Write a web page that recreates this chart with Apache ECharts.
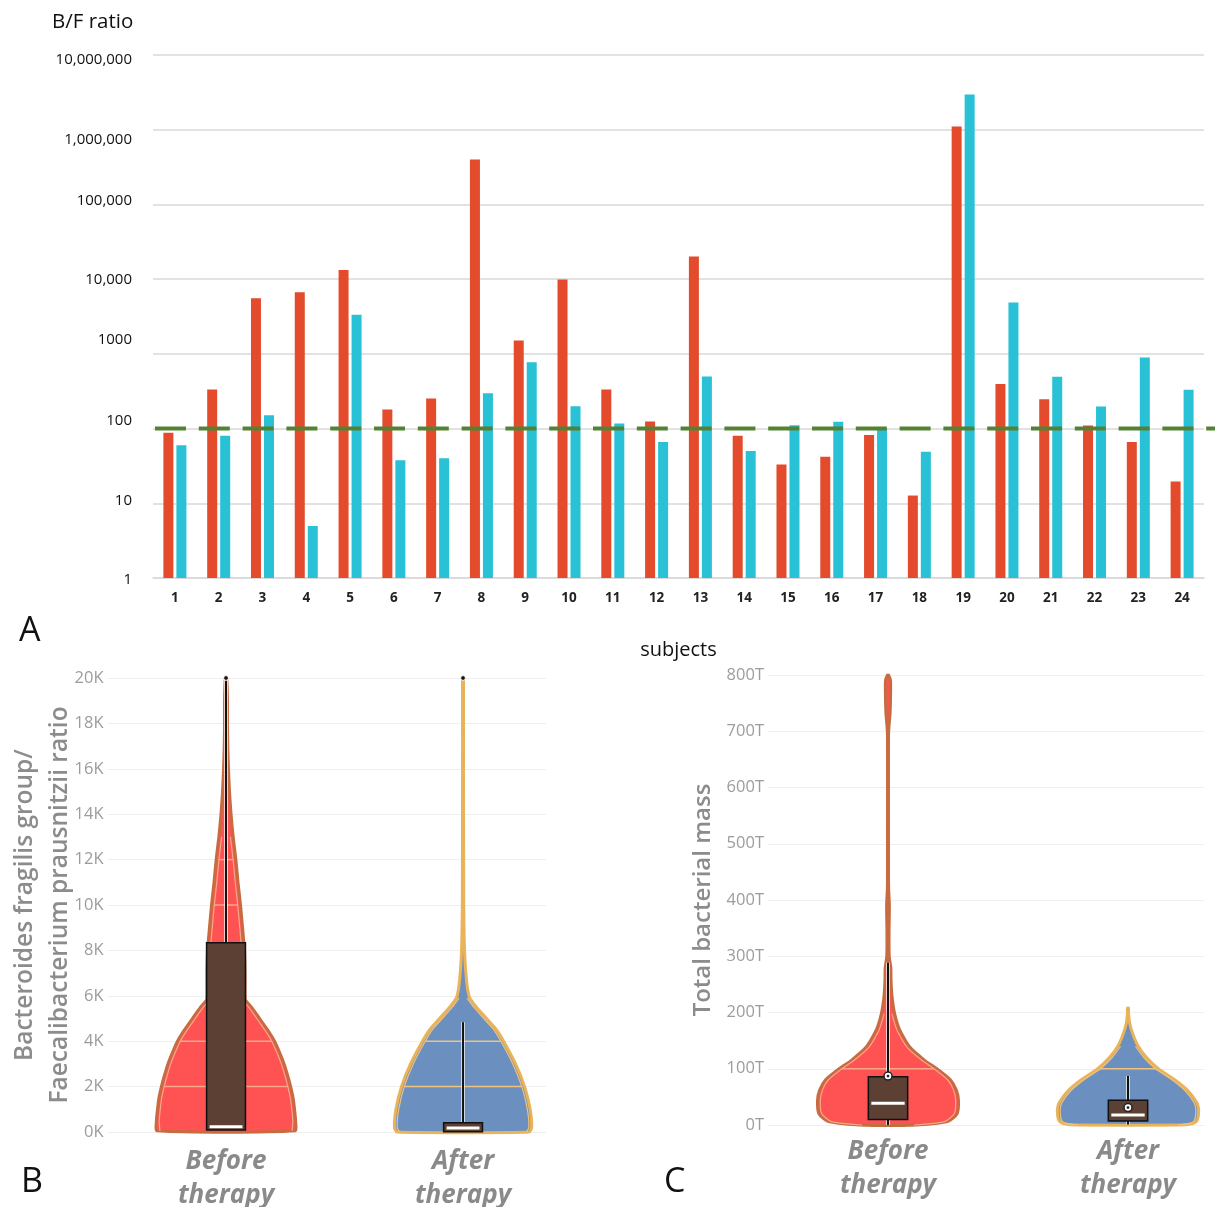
<!DOCTYPE html>
<html><head><meta charset="utf-8">
<script src="https://cdn.jsdelivr.net/npm/echarts@6/dist/echarts.min.js"></script>
<style>html,body{margin:0;padding:0;background:#fff}#c{width:1215px;height:1207px}</style>
</head><body><div id="c"></div>
<script>
// ---------- Panel A data ----------
const subjects = ['1','2','3','4','5','6','7','8','9','10','11','12','13','14','15','16','17','18','19','20','21','22','23','24'];
const ratioBefore = [88,333,5570,6700,13300,180,252,400000,1510,9900,333,124,20100,80,33,42,82,12.7,1100000,395,246,110,66,19.5];
const ratioAfter  = [60,80,151,4.97,3330,37.7,40,297,773,199,117,66,497,50,111,123,101,49,2960000,4870,493,198,893,331];
const threshold = 100;
const ratioTicks = [1,10,100,1000,10000,100000,1000000,10000000];

// ---------- Panels B and C data ----------
const groups = ['Before therapy','After therapy'];
const ticksB = [0,2000,4000,6000,8000,10000,12000,14000,16000,18000,20000];
const ticksC = [0,100,200,300,400,500,600,700,800]; // in T
// violin profiles: [value, relative density width]
const violinB_before = [[50,0.99],[500,1.0],[1000,0.985],[1500,0.965],[2000,0.93],[2500,0.887],[3000,0.838],[3500,0.775],[4000,0.704],[4500,0.606],[5000,0.493],[5500,0.38],[5800,0.296],[6000,0.289],[7000,0.289],[8000,0.282],[8500,0.268],[9000,0.254],[10000,0.225],[11000,0.19],[12000,0.16],[13000,0.122],[14000,0.092],[15000,0.07],[16000,0.056],[17000,0.046],[18000,0.042],[19000,0.042],[19800,0.035],[20000,0]];
const violinB_after = [[0,0.95],[200,0.986],[1000,0.965],[2000,0.887],[3000,0.76],[4000,0.592],[4500,0.493],[5000,0.352],[5500,0.211],[5900,0.117],[6300,0.085],[7000,0.061],[7700,0.046],[8400,0.038],[10000,0.031],[15000,0.028],[19900,0.028],[20000,0]];
const violinC_before = [[0,0.42],[6,0.845],[20,0.98],[44,1.0],[62,0.97],[80,0.89],[100,0.70],[115,0.53],[139,0.32],[169,0.183],[198,0.113],[228,0.077],[257,0.063],[280,0.06],[300,0.038],[340,0.035],[390,0.04],[420,0.03],[450,0.025],[500,0.021],[690,0.021],[710,0.035],[730,0.049],[760,0.056],[790,0.056],[800,0]];
const violinC_after = [[0,0.75],[3,0.93],[8,0.98],[18,1.0],[30,1.0],[40,0.976],[60,0.86],[80,0.674],[100,0.442],[120,0.279],[140,0.163],[160,0.093],[180,0.046],[200,0.024],[208,0]];
// box stats: [whiskerLow, q1, median, q3, whiskerHigh]
const boxB_before = [90, 90, 230, 8340, 20000];
const boxB_after  = [10, 10, 180, 410, 4840];
const boxC_before = [0, 10, 38.5, 86, 289];
const boxC_after  = [1, 7, 18, 44, 87];
const maxB = [20000, 20000];
const meanC = [87, 31];

// ---------- helpers ----------
const FONT = 'Open Sans';
const VIOLIN_HALF = 0.3;   // x units
const BOX_HALF = 0.082;    // x units
const palBefore = {fill:'#FF5252', edge:'#C96B40', light:'#F6A88C'};
const palAfter  = {fill:'#6B8FBF', edge:'#E9B35A', light:'#F0C27C'};

function interpR(profile, v){
  if (v < profile[0][0] || v > profile[profile.length-1][0]) return 0;
  for (let i=1;i<profile.length;i++){
    const a=profile[i-1], b=profile[i];
    if (v<=b[0]) return a[1]+(b[1]-a[1])*(v-a[0])/(b[0]-a[0]);
  }
  return 0;
}

function violin(xIdx, yIdx, xPos, profile, stats, ticks, pal, dotVal, dotType){
  return {
    type:'custom', xAxisIndex:xIdx, yAxisIndex:yIdx, silent:true, clip:false,
    data:[[xPos, stats[2]]],
    renderItem:function(params, api){
      const unit = api.size([1,0])[0];
      const cx = api.coord([xPos,0])[0];
      const maxHalf = VIOLIN_HALF*unit;
      const Y = v => api.coord([xPos,v])[1];
      const half = r => Math.max(r*maxHalf - 1.5, 0.5);
      const right=[], left=[];
      profile.forEach(p=>{ const h=half(p[1]); right.push([cx+h,Y(p[0])]); left.unshift([cx-h,Y(p[0])]); });
      const ch = [];
      ch.push({type:'polygon', shape:{points:right.concat(left), smooth:0.2},
        style:{fill:pal.fill, stroke:pal.edge, lineWidth:3}});
      // inner light outline runs
      [1,-1].forEach(sgn=>{
        let run=[];
        const flush=()=>{ if(run.length>1) ch.push({type:'polyline', shape:{points:run, smooth:0.2}, style:{fill:null, stroke:pal.light, lineWidth:1.2}}); run=[]; };
        profile.forEach(p=>{
          const h=half(p[1])-2.8;
          if (h>3) run.push([cx+sgn*h, Y(p[0])]); else flush();
        });
        flush();
      });
      // tick lines inside
      ticks.forEach(t=>{
        const h = half(interpR(profile,t));
        if (t>profile[0][0] && h>8){
          ch.push({type:'line', shape:{x1:cx-h+2.5,y1:Y(t),x2:cx+h-2.5,y2:Y(t)}, style:{stroke:pal.light, lineWidth:1.5}});
        }
      });
      const bh = BOX_HALF*unit;
      // whiskers
      [[stats[3],stats[4]],[stats[0],stats[1]]].forEach(w=>{
        if (w[1]-w[0] <= 0) return;
        ch.push({type:'line', shape:{x1:cx,y1:Y(w[0]),x2:cx,y2:Y(w[1])}, style:{stroke:'#fff', lineWidth:3.4}});
        ch.push({type:'line', shape:{x1:cx,y1:Y(w[0]),x2:cx,y2:Y(w[1])}, style:{stroke:'#111', lineWidth:2}});
      });
      // box
      ch.push({type:'rect', shape:{x:cx-bh, y:Y(stats[3]), width:2*bh, height:Y(stats[1])-Y(stats[3])},
        style:{fill:'#5B4033', stroke:'#111', lineWidth:1.5}});
      ch.push({type:'line', shape:{x1:cx-bh+3,y1:Y(stats[2]),x2:cx+bh-3,y2:Y(stats[2])}, style:{stroke:'#fff', lineWidth:3}});
      if (dotType==='max'){
        ch.push({type:'circle', shape:{cx:cx, cy:Y(dotVal), r:2.4}, style:{fill:'#111', stroke:'#fff', lineWidth:1}});
      } else {
        ch.push({type:'circle', shape:{cx:cx, cy:Y(dotVal), r:4}, style:{fill:'#fff', stroke:'#222', lineWidth:1.5}});
        ch.push({type:'circle', shape:{cx:cx, cy:Y(dotVal), r:1.4}, style:{fill:'#222'}});
      }
      return {type:'group', children:ch};
    }
  };
}

const labelShift = {1:2, 10:-3, 100:-8, 1000:-14, 10000:1, 100000:-4, 1000000:10, 10000000:5};
const rich = {};
Object.keys(labelShift).forEach(k=>{
  const d = labelShift[k];
  rich['s'+k] = {fontFamily:FONT, fontSize:15, color:'#111', padding: d>0 ? [2*d,0,0,0] : [0,0,-2*d,0]};
});
function fmtRatio(v){
  const r = Math.round(v);
  const txt = r>=10000 ? r.toLocaleString('en-US') : String(r);
  return '{s'+r+'|'+txt+'}';
}
function groupLabel(v){
  const i = Math.round(v-0.5);
  if (Math.abs(v-(i+0.5))<1e-6 && groups[i]) return groups[i].replace(' ','\n');
  return '';
}
const groupLabelStyle = {fontFamily:FONT, fontSize:26, fontWeight:'bold', fontStyle:'italic', color:'#8a8a8a'};
const letterStyle = {fontFamily:FONT, fontSize:34, fontWeight:'normal', color:'#111'};

const chart = echarts.init(document.getElementById('c'), null, {renderer:'canvas'});
chart.setOption({
  backgroundColor:'#fff',
  animation:false,
  textStyle:{fontFamily:FONT},
  title:[
    {text:'B/F ratio', left:52, top:12, padding:0, textStyle:{fontFamily:FONT, fontSize:20.5, fontWeight:'normal', color:'#111'}},
    {text:'A', left:19, top:614, padding:0, textStyle:letterStyle},
    {text:'B', left:21, top:1165, padding:0, textStyle:letterStyle},
    {text:'C', left:664, top:1165, padding:0, textStyle:letterStyle}
  ],
  grid:[
    {left:153, top:55, width:1051, height:523, outerBoundsMode:'none', containLabel:false},
    {left:155, top:55, width:1060, height:523, outerBoundsMode:'none', containLabel:false},
    {left:107.5, top:678, width:438.5, height:454, outerBoundsMode:'none', containLabel:false},
    {left:768, top:675, width:436.8, height:450, outerBoundsMode:'none', containLabel:false}
  ],
  xAxis:[
    {type:'category', gridIndex:0, data:subjects,
     axisLine:{lineStyle:{color:'#d9d9d9', width:1.5}}, axisTick:{show:false},
     axisLabel:{fontFamily:FONT, fontSize:13.5, fontWeight:'bold', color:'#222', margin:13},
     name:'subjects', nameLocation:'middle', nameGap:62, nameMoveOverlap:false,
     nameTextStyle:{fontFamily:FONT, fontSize:20, color:'#111'}},
    {type:'value', gridIndex:1, min:0, max:1, show:false},
    {type:'value', gridIndex:2, min:0, max:1.85, interval:0.5,
     axisLine:{show:false}, axisTick:{show:false}, splitLine:{show:false},
     axisLabel:Object.assign({formatter:groupLabel, margin:13, lineHeight:33.5, showMaxLabel:false}, groupLabelStyle)},
    {type:'value', gridIndex:3, min:0, max:1.82, interval:0.5,
     axisLine:{show:false}, axisTick:{show:false}, splitLine:{show:false},
     axisLabel:Object.assign({formatter:groupLabel, margin:10, lineHeight:34, showMaxLabel:false}, groupLabelStyle)}
  ],
  yAxis:[
    {type:'log', gridIndex:0, logBase:10, min:ratioTicks[0], max:ratioTicks[ratioTicks.length-1], splitNumber:7,
     axisLine:{show:false}, axisTick:{show:false},
     splitLine:{lineStyle:{color:'#d9d9d9', width:1.5}},
     axisLabel:{formatter:fmtRatio, rich:rich, margin:21}},
    {type:'log', gridIndex:1, logBase:10, min:ratioTicks[0], max:ratioTicks[ratioTicks.length-1], show:false},
    {type:'value', gridIndex:2, min:ticksB[0], max:ticksB[ticksB.length-1], interval:2000,
     axisLine:{show:false}, axisTick:{show:false},
     splitLine:{lineStyle:{color:'#efefef', width:1}},
     axisLabel:{formatter:v=>(v/1000)+'K', fontFamily:FONT, fontSize:16.5, color:'#9c9c9c', margin:4},
     name:'Bacteroides fragilis group/\nFaecalibacterium prausnitzii ratio', nameLocation:'middle', nameGap:30, nameMoveOverlap:false,
     nameTextStyle:{fontFamily:FONT, fontSize:24.5, fontWeight:600, color:'#8c8c8c', lineHeight:35}},
    {type:'value', gridIndex:3, min:ticksC[0], max:ticksC[ticksC.length-1], interval:100,
     axisLine:{show:false}, axisTick:{show:false},
     splitLine:{lineStyle:{color:'#efefef', width:1}},
     axisLabel:{formatter:v=>v+'T', fontFamily:FONT, fontSize:16.5, color:'#9c9c9c', margin:4},
     name:'Total bacterial mass', nameLocation:'middle', nameGap:47, nameMoveOverlap:false,
     nameTextStyle:{fontFamily:FONT, fontSize:24, fontWeight:600, color:'#8c8c8c', lineHeight:35}}
  ],
  series:[
    {type:'bar', xAxisIndex:0, yAxisIndex:0, data:ratioBefore, barWidth:10, barGap:'30%',
     itemStyle:{color:'#E34B2C'}},
    {type:'bar', xAxisIndex:0, yAxisIndex:0, data:ratioAfter, barWidth:10, barGap:'30%',
     itemStyle:{color:'#29C1D5'}},
    {type:'line', xAxisIndex:1, yAxisIndex:1, data:[[0,threshold],[1,threshold]], symbol:'none', silent:true,
     lineStyle:{color:'#548235', width:4, type:[31,12.8], cap:'butt'}},
    violin(2,2,0.5,violinB_before,boxB_before,ticksB,palBefore,maxB[0],'max'),
    violin(2,2,1.5,violinB_after,boxB_after,ticksB,palAfter,maxB[1],'max'),
    violin(3,3,0.5,violinC_before,boxC_before,ticksC,palBefore,meanC[0],'mean'),
    violin(3,3,1.5,violinC_after,boxC_after,ticksC,palAfter,meanC[1],'mean')
  ]
});
</script></body></html>
